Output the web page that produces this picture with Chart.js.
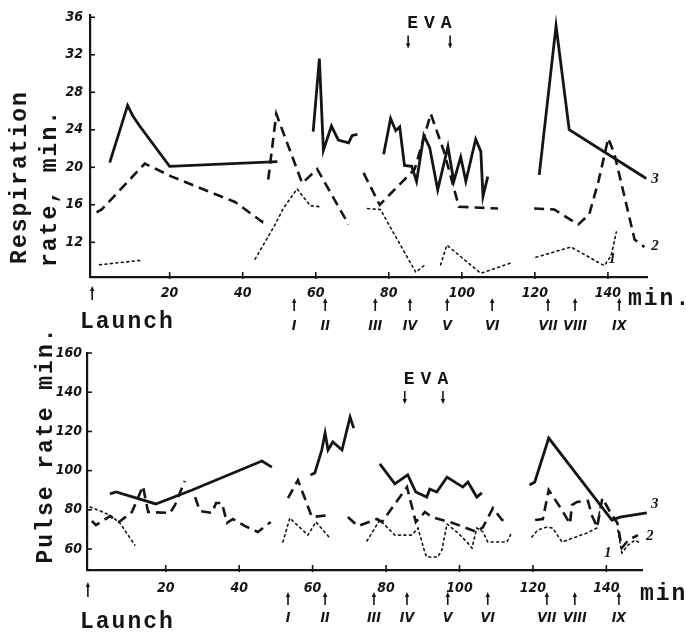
<!DOCTYPE html>
<html>
<head>
<meta charset="utf-8">
<script src="https://cdn.jsdelivr.net/npm/chart.js@4.4.1/dist/chart.umd.min.js"></script>
<style>
  html, body { margin: 0; padding: 0; background: #fff; }
  #wrap { position: relative; width: 686px; height: 635px; overflow: hidden; }
  canvas { position: absolute; left: 0; }
  #respCanvas { top: 0; }
  #pulseCanvas { top: 300px; }
</style>
</head>
<body>
<div id="wrap">
  <canvas id="respCanvas" width="686" height="345"></canvas>
  <canvas id="pulseCanvas" width="686" height="335"></canvas>
</div>
<script>
// ---- ticks ----
const respTicksY = [12, 16, 20, 24, 28, 32, 36];
const respTicksX = [20, 40, 60, 80, 100, 120, 140];
const pulseTicksY = [60, 80, 100, 120, 140, 160];
const pulseTicksX = [20, 40, 60, 80, 100, 120, 140];

// ---- respiration rate (min), null = break in the trace ----
// curve 1 (dotted)
const respT1 = [0.8, 12.6, 28, 43.4, 48.9, 51.1, 54.9, 58.5, 61, 68, 74.2, 77.7, 87.4, 89.6, 92, 94.2, 95.9, 105.2, 113.5, 117, 120.3, 129.9, 139, 140.9, 142.3];
const respV1 = [9.6, 10.1, null, 10.2, 13.9, 15.6, 17.7, 15.9, 15.8, null, 15.6, 15.5, 8.8, 9.5, null, 9.6, 11.7, 8.7, 9.8, null, 10.4, 11.5, 9.5, 10.6, 13.1];
// curve 2 (dashed)
const respT2 = [0, 1.4, 13.2, 20.6, 37.9, 45.3, 45.6, 46.3, 47, 49.2, 56.3, 60.4, 69, 71, 73.1, 77.5, 87.1, 91.5, 95.1, 99.2, 109.9, 115, 119.8, 125.3, 131.9, 134.9, 137.4, 140.1, 141.8, 147.3, 150];
const respV2 = [15.2, 15.5, 20.4, 19.0, 16.3, 14.2, 14.9, null, 18.7, 25.7, 18.3, 19.8, 13.9, null, 19.4, 16.0, 19.8, 25.7, 21.7, 15.8, 15.6, null, 15.6, 15.5, 13.9, 15.0, 18.5, 23.1, 21.4, 12.3, 11.5];
// curve 3 (solid)
const respT3 = [3.6, 8.5, 9.9, 11.8, 20, 49.5, 54, 59.3, 61, 62.1, 64.3, 66.2, 69, 70, 71.4, 75, 78.6, 80.5, 81.9, 83.0, 84.3, 86.3, 87.6, 89.6, 91.2, 93.4, 96.2, 97.8, 99.7, 101.1, 103.8, 105.2, 105.8, 107.1, 114, 121.2, 125.8, 129.4, 150.5];
const respV3 = [20.5, 26.6, 25.5, 24.4, 20.1, 20.6, null, 23.8, 31.6, 21.8, 24.4, 22.9, 22.6, 23.4, 23.5, null, 21.4, 25.2, 23.9, 24.3, 20.2, 20.1, 18.5, 23.4, 22.1, 17.6, 22.2, 18.5, 21.1, 18.5, 23.0, 21.7, 16.9, 19.0, null, 19.2, 35.1, 24.0, 18.8];

// ---- pulse rate (min) ----
// curve 1 (dotted)
const pulseT1 = [-0.6, 1.5, 4.8, 7.5, 11.6, 30, 51.9, 53.8, 58.7, 60.9, 64.7, 70, 74.8, 78.3, 80.5, 82.4, 87, 88.7, 90.6, 91.1, 94.1, 95.2, 96.6, 99.6, 102, 103.4, 104.7, 106.4, 107.7, 112.9, 114.3, 117, 119.7, 121.3, 123.8, 125.4, 127.9, 130.9, 134.7, 137.4, 138.2, 140.5, 143.1, 144.2, 145.9, 147.8, 149.1];
const pulseV1 = [81.4, 79.9, 77.3, 73.3, 62.0, null, 63.6, 75.8, 67.1, 73.8, 65.6, null, 64.1, 74.8, 70.7, 67.1, 67.1, 70.7, 58.0, 55.9, 55.9, 59.5, 72.8, 68.2, 63.6, 60.5, 70.7, 68.7, 63.6, 63.6, 68.7, null, 66.1, 69.7, 71.2, 70.7, 63.6, 65.6, 68.2, 70.7, 79.9, null, 69.7, 58, 62, 64.6, 63.1];
// curve 2 (dashed)
const pulseT2 = [-0.1, 1, 4, 4.8, 7.3, 10.8, 13.8, 15.2, 21.2, 22.5, 25.2, 26.6, 28, 29.3, 32.6, 33.7, 35.3, 36.7, 38.3, 41.6, 45.1, 48.6, 51, 53.3, 56, 59.8, 64.7, 67, 69.6, 72.3, 77.5, 78.9, 85.7, 88.1, 90.6, 92.5, 98.2, 104.7, 106.4, 109.1, 111.6, 113.2, 117, 120.6, 122.7, 124.3, 127.9, 130.1, 130.6, 132, 135, 136, 137.5, 138.9, 141, 143, 144.2, 146, 148.6];
const pulseV2 = [74.3, 72.2, 75.8, 76.8, 73.8, 78.9, 92.1, 78.9, 78.4, 82.4, 94.7, null, 86.5, 79.4, 78.4, 83.5, 83.5, 73.3, 75.3, 71.7, 68.7, 73.8, null, 86.0, 95.2, 76.3, 77.3, null, 76.3, 71.7, 75.3, 73.8, 91.6, 73.8, 78.9, 76.3, 73.3, 68.7, 71.2, 80.9, 74.8, 74.8, null, 74.8, 75.3, 90.1, 79.9, 72.8, 82.4, 84, 84.5, 77.3, 71.2, 86, 78.9, 73.3, 60.5, 64.6, 67.1];
// curve 3 (solid)
const pulseT3 = [4.8, 6.5, 17.3, 27.2, 46.2, 48.9, 54, 59.4, 60.6, 62.5, 63.4, 64.2, 65.5, 68, 70.2, 71.2, 75, 78.3, 82.4, 85.9, 88.1, 91.1, 91.9, 93.8, 96.6, 100.9, 102.3, 104.7, 106.1, 112, 119.1, 120.5, 124.3, 141.5, 143.7, 151];
const pulseV3 = [88.1, 89.1, 83.0, 90.1, 104.9, 101.8, null, 97.8, 98.8, 110.5, 119.2, 110.5, 114.6, 110.5, 127.3, 121.7, null, 103.4, 93.2, 97.8, 89.1, 86.5, 90.6, 89.1, 96.7, 91.6, 94.2, 86.5, 88.6, null, 92.7, 94.2, 116.6, 74.8, 76.3, 78.4];

// ---- events (min) ----
const eventLabels = ["I", "II", "III", "IV", "V", "VI", "VII", "VIII", "IX"];
const respEvents = [54.1, 62.6, 76.3, 85.8, 96, 108.3, 123.6, 131, 143.1];
const pulseEvents = [53.3, 63.4, 76.7, 85.7, 96.8, 107.7, 123.8, 131.4, 143.4];
const respEva = [85.3, 96.8];
const pulseEva = [85.1, 95.5];
const launchTime = -1.2;

const INK = "#151515";
const MONO = "'Liberation Mono', 'DejaVu Sans Mono', monospace";
const NUMFONT = "'Liberation Sans Narrow', 'DejaVu Sans Condensed', 'Liberation Serif', serif";

const pts = (ts, vs) => ts.map((t, i) => ({ x: t, y: vs[i] }));

function curves(t1, v1, t2, v2, t3, v3) {
  return [
    { data: pts(t1, v1), borderColor: INK, borderWidth: 1.6, borderDash: [2, 3.5], borderCapStyle: "round" },
    { data: pts(t2, v2), borderColor: INK, borderWidth: 2.6, borderDash: [10, 6] },
    { data: pts(t3, v3), borderColor: INK, borderWidth: 2.8 },
  ].map((d) => Object.assign(d, { pointRadius: 0, tension: 0, spanGaps: false, clip: 10, fill: false }));
}

function upArrow(ctx, x, yTop, yBot) {
  ctx.beginPath();
  ctx.moveTo(x, yBot);
  ctx.lineTo(x, yTop + 3);
  ctx.stroke();
  ctx.beginPath();
  ctx.moveTo(x, yTop);
  ctx.lineTo(x - 2.2, yTop + 5);
  ctx.lineTo(x + 2.2, yTop + 5);
  ctx.closePath();
  ctx.fill();
}

function downArrow(ctx, x, yTop, yBot) {
  ctx.beginPath();
  ctx.moveTo(x, yTop);
  ctx.lineTo(x, yBot - 3);
  ctx.stroke();
  ctx.beginPath();
  ctx.moveTo(x, yBot);
  ctx.lineTo(x - 2.2, yBot - 5);
  ctx.lineTo(x + 2.2, yBot - 5);
  ctx.closePath();
  ctx.fill();
}

function vText(ctx, text, baseX, cy) {
  ctx.save();
  ctx.translate(baseX, cy);
  ctx.rotate(-Math.PI / 2);
  ctx.textAlign = "center";
  ctx.textBaseline = "alphabetic";
  ctx.fillText(text, 0, 0);
  ctx.restore();
}

// draws inward ticks, titles, launch / event arrows and curve numbers
const notesPlugin = {
  id: "notes",
  afterDraw(chart, args, o) {
    const { ctx, chartArea: a } = chart;
    const x = chart.scales.x, y = chart.scales.y;
    ctx.save();
    ctx.fillStyle = INK;
    ctx.strokeStyle = INK;

    // inward tick marks
    ctx.lineWidth = 1.6;
    x.ticks.forEach((t) => {
      const px = x.getPixelForValue(t.value);
      ctx.beginPath(); ctx.moveTo(px, a.bottom - 5); ctx.lineTo(px, a.bottom + 2); ctx.stroke();
    });
    y.ticks.forEach((t) => {
      const py = y.getPixelForValue(t.value);
      ctx.beginPath(); ctx.moveTo(a.left - 1, py); ctx.lineTo(a.left + 5, py); ctx.stroke();
    });

    // y axis title
    ctx.font = "bold 23px " + MONO;
    ctx.letterSpacing = "2px";
    o.titles.forEach((tt) => vText(ctx, tt.text, tt.x, tt.y));

    // Launch + min
    ctx.textAlign = "left";
    ctx.fillText("Launch", 80, a.bottom + o.launchDy);
    ctx.fillText(o.minText, o.minX, a.bottom + o.minDy);

    // EVA
    ctx.font = "bold 18px " + MONO;
    ctx.letterSpacing = "6px";
    const e0 = x.getPixelForValue(o.eva[0]);
    ctx.fillText("EVA", e0 - 1, a.top + o.evaDy);
    ctx.letterSpacing = "0px";
    ctx.lineWidth = 1.6;
    o.eva.forEach((t) => downArrow(ctx, x.getPixelForValue(t), a.top + o.evaArrow[0], a.top + o.evaArrow[1]));

    // launch arrow
    upArrow(ctx, x.getPixelForValue(launchTime), a.bottom + o.launchArrow[0], a.bottom + o.launchArrow[1]);

    // event arrows and numerals
    ctx.font = "italic bold 14px " + NUMFONT;
    ctx.textAlign = "center";
    o.events.forEach((t, i) => {
      const px = x.getPixelForValue(t);
      upArrow(ctx, px, a.bottom + o.evArrow[0], a.bottom + o.evArrow[1]);
      ctx.fillText(eventLabels[i], px, a.bottom + o.evTextDy);
    });

    // curve numbers
    ctx.font = "italic bold 15px 'Liberation Serif', serif";
    o.curveLabels.forEach((c) => {
      ctx.fillText(c.text, x.getPixelForValue(c.x), y.getPixelForValue(c.y) + 5);
    });
    ctx.restore();
  },
};

function makeChart(id, cfg) {
  const tickFont = { family: NUMFONT, style: "italic", weight: "bold", size: 14 };
  return new Chart(document.getElementById(id), {
    type: "line",
    data: { datasets: cfg.datasets },
    plugins: [notesPlugin],
    options: {
      responsive: false,
      animation: false,
      devicePixelRatio: 1,
      layout: { padding: cfg.padding },
      plugins: { legend: { display: false }, tooltip: { enabled: false }, notes: cfg.notes },
      scales: {
        x: {
          type: "linear",
          min: cfg.xMin,
          max: cfg.xMax,
          afterBuildTicks: (s) => { s.ticks = cfg.ticksX.map((v) => ({ value: v })); },
          afterFit: (s) => { s.height = cfg.xHeight; },
          grid: { display: false, drawTicks: false },
          border: { display: true, color: INK, width: 2.2 },
          ticks: { color: INK, font: tickFont, padding: cfg.xPad, autoSkip: false, maxRotation: 0 },
        },
        y: {
          min: cfg.yMin,
          max: cfg.yMax,
          afterBuildTicks: (s) => { s.ticks = cfg.ticksY.map((v) => ({ value: v })); },
          afterFit: (s) => { s.width = cfg.yWidth; },
          grid: { display: false, drawTicks: false },
          border: { display: true, color: INK, width: 2.2 },
          ticks: { color: INK, font: tickFont, padding: cfg.yPad },
        },
      },
    },
  });
}

// Respiration panel
makeChart("respCanvas", {
  datasets: curves(respT1, respV1, respT2, respV2, respT3, respV3),
  padding: { top: 15, right: 39, left: 0, bottom: 0 },
  xMin: -1.8, xMax: 150.7, yMin: 8.3, yMax: 36.2,
  ticksX: respTicksX, ticksY: respTicksY,
  xHeight: 68, yWidth: 90, xPad: 8, yPad: 7,
  notes: {
    titles: [
      { text: "Respiration", x: 26, y: 177 },
      { text: "rate, min.", x: 56, y: 188 },
    ],
    minText: "min.", minX: 628, minDy: 28, launchDy: 51,
    eva: respEva, evaDy: 13, evaArrow: [20, 33],
    launchArrow: [9, 23],
    events: respEvents, evArrow: [21, 34], evTextDy: 53,
    curveLabels: [
      { text: "3", x: 152.9, y: 18.9 },
      { text: "2", x: 152.9, y: 11.7 },
      { text: "1", x: 141.2, y: 10.3 },
    ],
  },
});

// Pulse panel
makeChart("pulseCanvas", {
  datasets: curves(pulseT1, pulseV1, pulseT2, pulseV2, pulseT3, pulseV3),
  padding: { top: 53, right: 44, left: 0, bottom: 0 },
  xMin: -1.44, xMax: 149.7, yMin: 49.3, yMax: 160,
  ticksX: pulseTicksX, ticksY: pulseTicksY,
  xHeight: 65, yWidth: 87, xPad: 10, yPad: 5,
  notes: {
    titles: [{ text: "Pulse rate min.", x: 52, y: 145 }],
    minText: "min", minX: 640, minDy: 30, launchDy: 58,
    eva: pulseEva, evaDy: 31, evaArrow: [38, 51],
    launchArrow: [12, 27],
    events: pulseEvents, evArrow: [22, 35], evTextDy: 52,
    curveLabels: [
      { text: "3", x: 153.2, y: 83.5 },
      { text: "2", x: 151.8, y: 67.1 },
      { text: "1", x: 140.4, y: 58.5 },
    ],
  },
});
</script>
</body>
</html>
